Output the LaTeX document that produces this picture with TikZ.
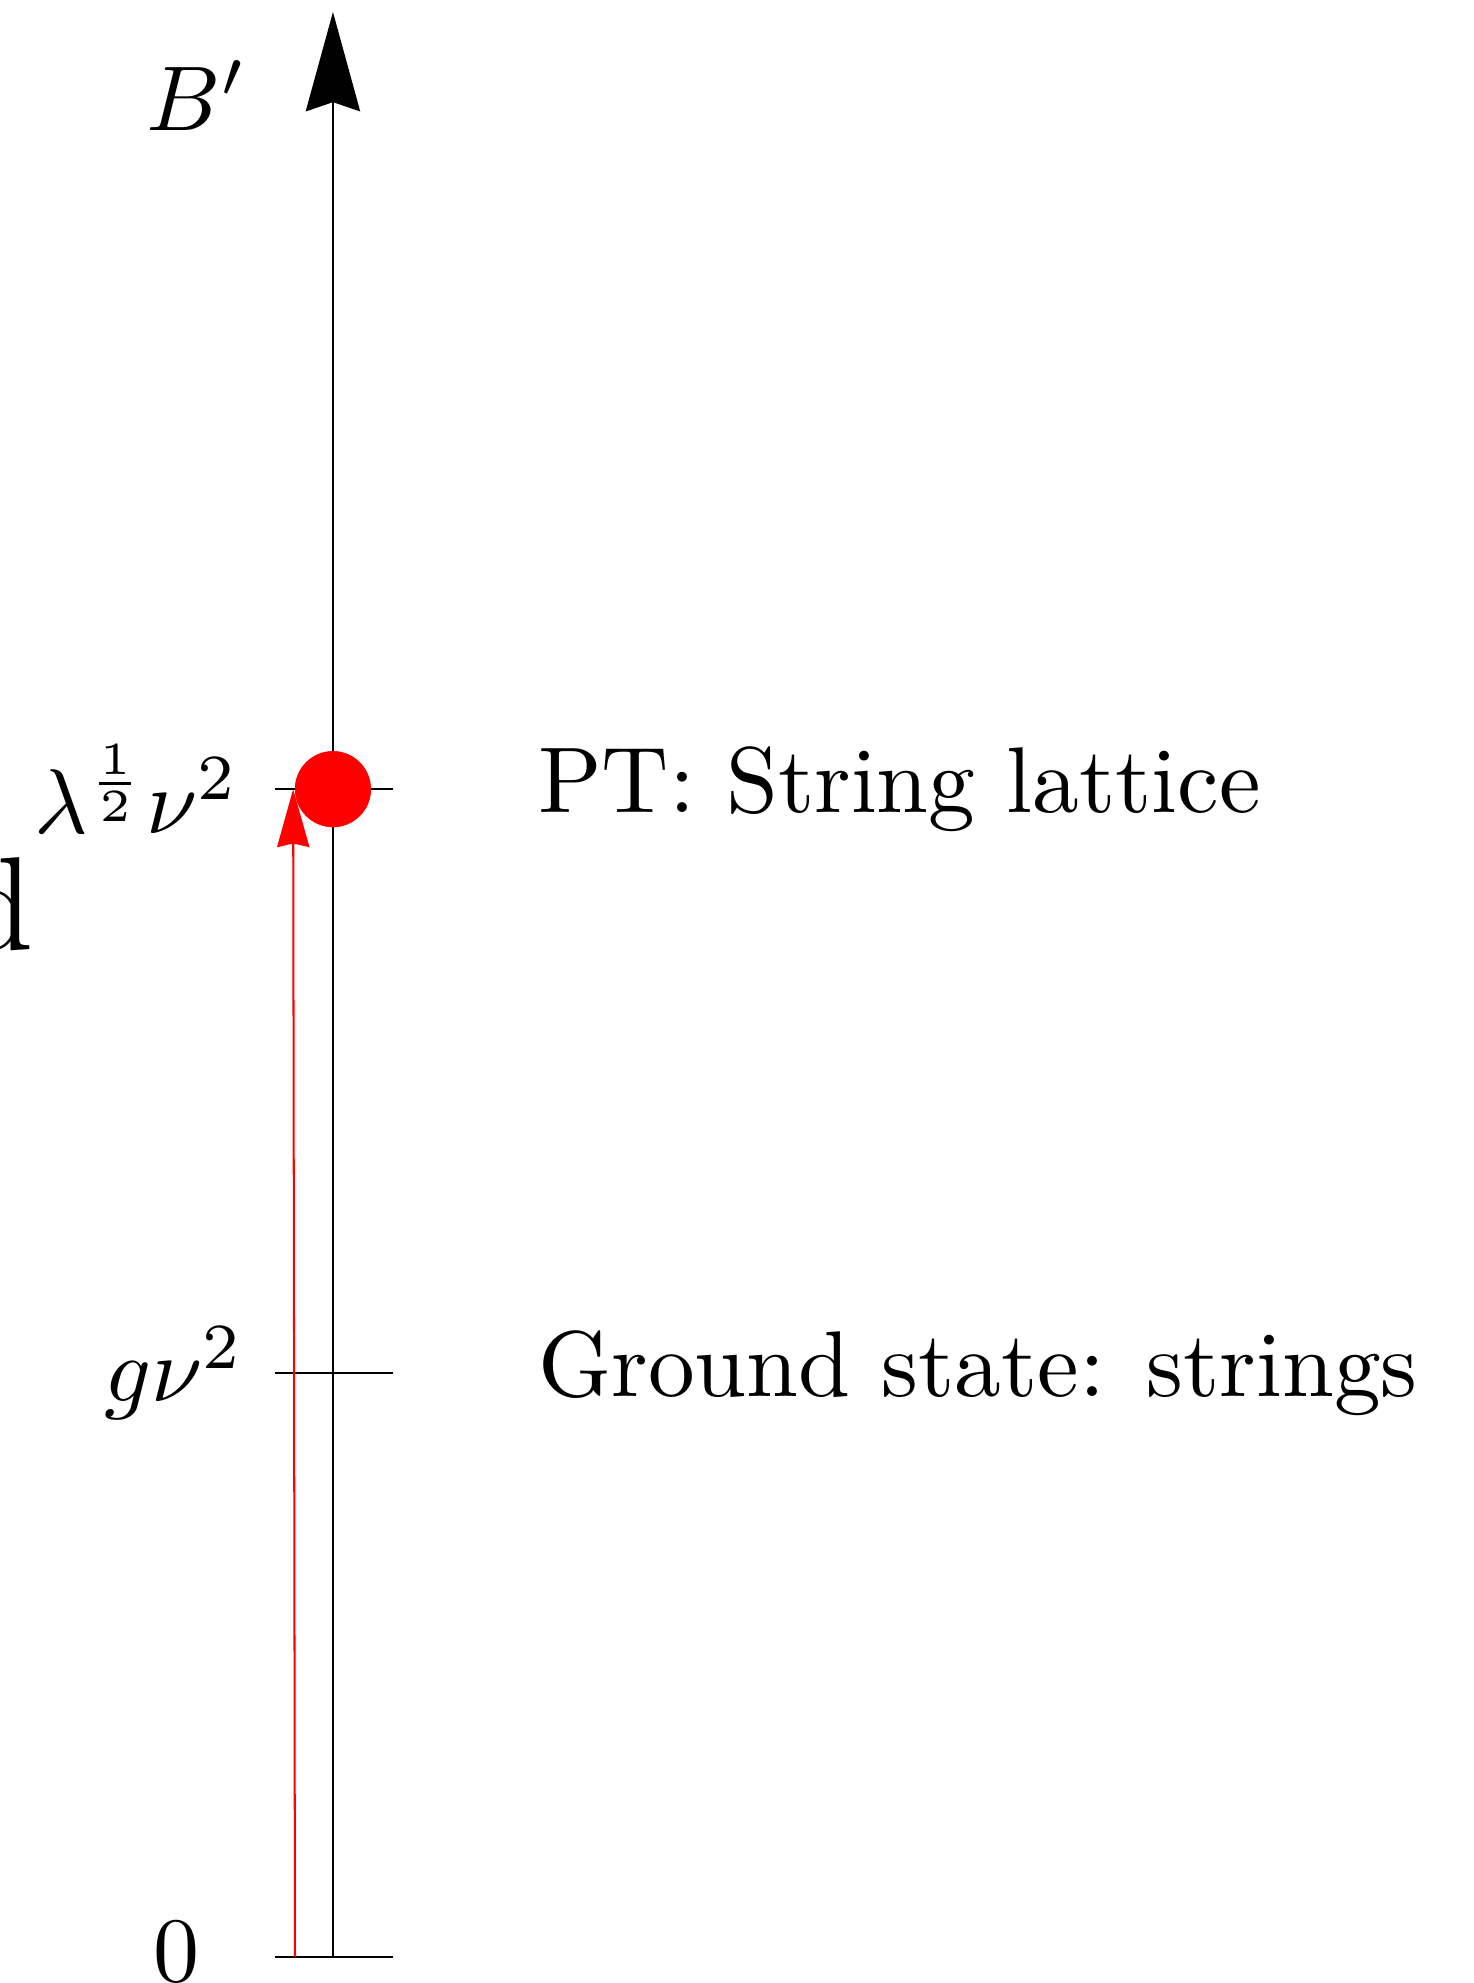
\documentclass[tikz,border=0pt]{standalone}
\usetikzlibrary{arrows.meta}
\tikzset{
	axisline/.style={line width=0.22pt, -{Stealth[length=10.8pt, width=5.9pt, inset=1pt]}},
	tickline/.style={line width=0.22pt},
	flowline/.style={red, line width=0.22pt, -{Stealth[length=6.3pt, width=3.5pt, inset=0.4pt]}},
	ptdot/.style={circle, fill=red, inner sep=0pt, minimum size=0.29cm},
}
\begin{document}
\begin{tikzpicture}[font=\fontsize{10.15pt}{12pt}\selectfont]
	\useasboundingbox (-1.272,-0.099) rectangle (4.359,7.477);
	\coordinate (bot) at (0,0);
	\coordinate (top) at (0,7.431);
	\coordinate (flowstart) at (-0.145,0);
	\draw[axisline] (bot) -- (top);
	\node[anchor=base] (blab) at (-0.52,6.98) {$B'$};
	% ticks
	\draw[tickline] (-0.222,0) -- (0.229,0);
	\draw[tickline] (-0.222,2.231) -- (0.229,2.231);
	\draw[tickline] (-0.222,4.462) -- (0.229,4.462);
	\node[anchor=east] (zlab) at (-0.386,0.02) {$0$};
	\node[anchor=east] (glab) at (-0.215,2.231) {$g\nu^2$};
	\node[anchor=east] (llab) at (-0.235,4.462) {$\lambda^{\frac{1}{2}}\nu^2$};
	% transition
	\node[ptdot] (pt) at (0,4.462) {};
	\draw[flowline] (flowstart) -- (pt.west);
	\node[ptdot] at (pt) {};
	\node[anchor=west] (ptlab) at (0.66,4.462) {PT: String lattice};
	\node[anchor=west] (gslab) at (0.66,2.231) {Ground state: strings};
	\node[anchor=base east, inner sep=0pt, font=\Large] (cut) at (-1.138,3.851) {d};
\end{tikzpicture}
\end{document}
